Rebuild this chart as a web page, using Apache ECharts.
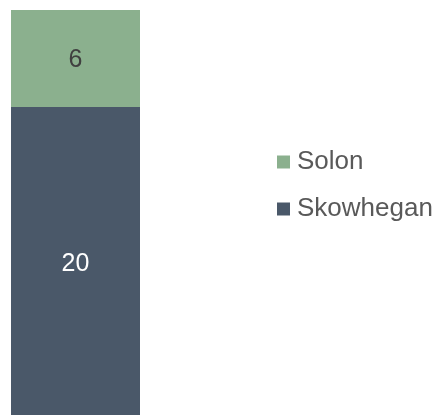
<!DOCTYPE html>
<html>
<head>
<meta charset="utf-8">
<script src="https://cdn.jsdelivr.net/npm/echarts@6/dist/echarts.min.js"></script>
<style>
  html, body { margin: 0; padding: 0; background: #fff; }
  #chart { width: 439px; height: 415px; }
</style>
</head>
<body>
<div id="chart"></div>
<script>
// data
var categories = ["Town"];
var skowhegan = [20];
var solon = [6];

var chart = echarts.init(document.getElementById("chart"));

var option = {
  animation: false,
  textStyle: { fontFamily: "Liberation Sans, Arial, sans-serif" },
  legend: {
    orient: "vertical",
    left: 277,
    top: 149,
    padding: 0,
    itemWidth: 13,
    itemHeight: 13,
    itemGap: 21,
    icon: "rect",
    data: ["Solon", "Skowhegan"],
    textStyle: { color: "#595959", fontSize: 26, padding: [0, 0, 0, 2] }
  },
  // bar runs past the bottom edge, as in the source image
  grid: { left: 11, top: 10, width: 129, height: 420, outerBoundsMode: "none" },
  xAxis: {
    type: "category",
    data: categories,
    show: false
  },
  yAxis: {
    type: "value",
    min: 0,
    max: 26,
    show: false
  },
  series: [
    {
      name: "Skowhegan",
      type: "bar",
      stack: "total",
      barWidth: "100%",
      data: skowhegan,
      itemStyle: { color: "#4A5869" },
      label: {
        show: true,
        position: "inside",
        offset: [0, -4],
        color: "#ffffff",
        fontSize: 25
      }
    },
    {
      name: "Solon",
      type: "bar",
      stack: "total",
      barWidth: "100%",
      data: solon,
      itemStyle: { color: "#8BB08E" },
      label: {
        show: true,
        position: "inside",
        offset: [0, 2],
        color: "#404040",
        fontSize: 25
      }
    }
  ]
};
chart.setOption(option);
</script>
</body>
</html>
